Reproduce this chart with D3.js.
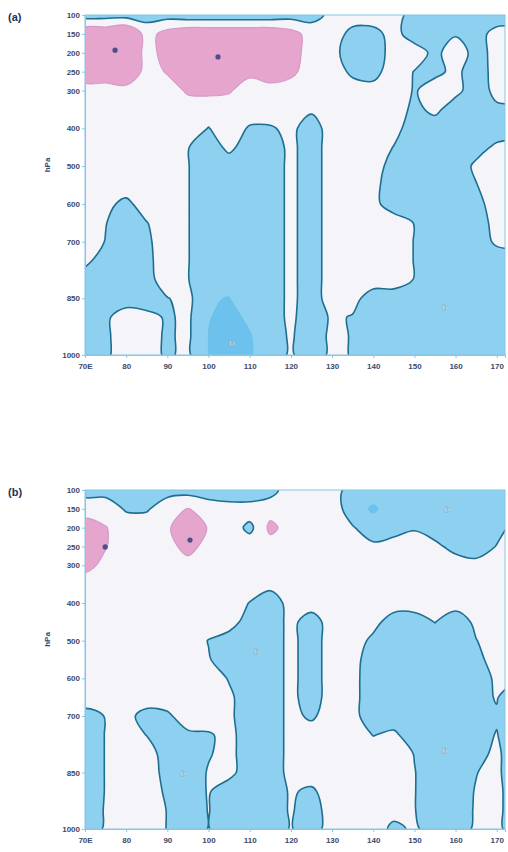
<!DOCTYPE html>
<html>
<head>
<meta charset="utf-8">
<script src="https://cdn.jsdelivr.net/npm/d3@7"></script>
<style>
  body { margin: 0; background: #ffffff; }
  svg { display: block; }
</style>
</head>
<body>
<svg id="chart" width="508" height="852"></svg>
<script>
// Grid longitudes (deg E) and pressure levels (hPa) of the anomaly fields
const lons = [70, 75, 80, 85, 90, 95, 100, 105, 110, 115, 120, 125, 130, 135, 140, 145, 150, 155, 160, 165, 170, 175];
const levels = [100, 150, 200, 250, 300, 350, 400, 450, 500, 550, 600, 650, 700, 750, 800, 850, 900, 950, 1000];

// Axis ticks
const pressureTicks = [100, 150, 200, 250, 300, 400, 500, 600, 700, 850, 1000];
const lonTicks = [70, 80, 90, 100, 110, 120, 130, 140, 150, 160, 170];
const lonTickLabels = ["70E", "80", "90", "100", "110", "120", "130", "140", "150", "160", "170"];

// Panel (a) anomaly field, one row per pressure level (top = 100 hPa)
const fieldA = [
  [-1.5,-1.5,-1.5,-1.5,-1.5,-2,-2,-2,-2,-2,-1.5,-1.5,0.2,1,1,1,-2,-2,-2,-2,-2,-2],
  [4,4,5,1,3,4,4,4,4,4,3,1,1,-1.4,-1.4,0.5,-2,-2,-0.8,-1.5,0.4,1],
  [4,4,5,1,3,5,5,4,3.5,4,3,1,0.4,-2,-2,0.6,1,-1.3,1.2,-1.6,0.4,1],
  [3.5,3.5,4.5,1,2.2,4,4.5,3.5,2.5,3.5,2.5,1,1.2,-1.2,-1.5,1,-0.6,-1,0,-1.6,0.3,1],
  [1,1,1,1,1,2.3,2.4,2.2,1,1,1,1,1,1,0.5,1,-0.7,0.5,0.3,-2,0.3,1],
  [1,1,1,1,1,1,1,1,1,1,1,0,1,1,1,1,-1.2,0.2,-2,-2,-1,-1],
  [1,1,1,1,1,1,-0.6,1,-0.8,-0.8,0.2,-2,1,1,1,0.5,-2,-2,-2,-2,-2,-2],
  [1,1,1,1,1,-0.4,-2,0.2,-2,-2,0.2,-2,1,1,1,-0.6,-2,-2,-2,-1.5,0,1],
  [1,1,1,1,1,-0.4,-2,-2,-2,-2,0.2,-2,1,1,1.2,-2,-2,-2,-2,0,1,1],
  [1,1,1,1,1,-0.4,-2,-2,-2,-2,0.2,-2,1,1,0.3,-2,-2,-2,-2,-0.6,1,1],
  [1,0.2,-1.2,1,1,-0.4,-2,-2,-2,-2,0.2,-2,1,1,0.3,-2,-2,-2,-2,-1.5,1,1],
  [1,-0.4,-2,-0.6,1,-0.4,-2,-2,-2,-2,0.2,-2,1,1,1,1,-0.6,-2,-2,-2,0.5,1],
  [1,-0.6,-2,-1,1,-0.4,-2,-2,-2,-2,0.2,-2,1,1,1,1,-0.6,-2,-2,-2,0,1],
  [0.3,-2,-2,-1.2,1,-0.4,-2,-2,-2,-2,0.2,-2,1,1,1,1,-0.6,-2,-2,-2,-2,-2],
  [-2,-2,-2,-1.5,1,-0.4,-2.6,-2.6,-2,-2,0.2,-2,1,1,1,1,-0.6,-2,-2,-2,-2,-2],
  [-2,-2,-2,-2,-0.6,0.3,-3.3,-3.6,-2,-2,0.2,-2,1,0.5,-2,-2,-2,-2,-2,-2,-2,-2],
  [-2,-1,1,0.3,-0.8,0,-3.4,-4.2,-3.1,-2,0.2,-2.5,0,-0.7,-2,-2,-2,-2,-2,-2,-2,-2],
  [-2,-1,1,0.3,-0.8,0,-3.6,-4.5,-3.7,-2,-0.1,-2.5,0.3,-0.7,-2,-2,-2,-2,-2,-2,-2,-2],
  [-2,-1,1,0.3,-0.8,0,-3.6,-4.6,-3.8,-2,-0.1,-2.5,0.3,-0.7,-2,-2,-2,-2,-2,-2,-2,-2]
];

// Panel (b) anomaly field
const fieldB = [
  [-1.5,-1.5,-1.5,-1.5,-1.5,-1.5,-2,-3,-3,-1.5,1,1,1,-2,-2,-2,-2,-2,-2,-2,-2,-2],
  [1,1,-0.8,-0.8,1,2.1,1,1,1,1,1,1,1,-2,-4,-2,-2,-2,-2,-2,-2,-2],
  [3,2.1,1,1,1.6,4,1.8,1,-1.2,2.6,1,1,1,-0.3,-2,-2,-0.8,-2,-2,-2,-2,1],
  [3,2.1,1,1,1,3,1,1,1,1,1,1,1,1,0,1,1,0.2,-1.5,-3,-0.3,1],
  [2.6,1.5,1,1,1,1,1,1,1,1,1,1,1,1,1,1,1,1,1,1,1,1],
  [1,1,1,1,1,1,1,1,1,0.3,1,1,1,1,1,1,1,1,1,1,1,1],
  [1,1,1,1,1,1,1,1,-0.6,-2,0.5,1,1,1,1,1,1,1,1,1,1,1],
  [1,1,1,1,1,1,1,1,-2,-2,0.3,-2,1,1,0.5,-2,-2,-0.4,-2.5,0.3,1,1],
  [1,1,1,1,1,1,-0.6,-2,-2,-2,0.3,-2,1,1,-1.2,-2,-2,-2,-2,-0.6,1,1],
  [1,1,1,1,1,1,-0.3,-2,-2,-2,0.3,-2,1,0.5,-2,-2,-2,-2,-2,-1.5,1,1],
  [1,1,1,1,1,1,1,-0.7,-2,-2,0.3,-2,1,0.3,-2,-2,-2,-2,-2,-2,0,0.5],
  [1,1,1,1,1,1,1,0,-2,-2,0.3,-2,1,0.3,-2,-2,-2,-2,-2,-2,-0.2,-4],
  [-1.5,-0.4,0.3,-1.5,-1,1,1,0,-2,-2,0.3,-1,1,0.3,-2,-2,-2,-2,-2,-2,-1,-4],
  [-2,-0.4,1,-0.6,-2,-1,-0.8,0.3,-2,-2,0.3,1,1,1,-0.6,0,-2,-2,-2,-2,-0.3,-4],
  [-2,-0.4,1,1,-2,-2,-0.7,0.3,-2,-2,0.3,1,1,1,1,1,-0.6,-2,-2,-2,0.5,-4],
  [-2,-0.4,1,1,-1.5,-2,-0.3,0.3,-2,-2,0.3,1,1,1,1,1,-0.4,-2,-2,-0.6,0.5,-4],
  [-2,-0.4,1,1,-1,-2,-0.3,-2,-2,-2,-0.2,-1,1,1,1,1,-0.4,-2,-2,-0.3,1,-4],
  [-2,-0.3,1,1,-0.6,-2,-0.4,-2,-2,-2,-0.2,-2,1,1,1,0.5,-0.4,-2,-2,-0.2,1,-4],
  [-2,-0.2,1,1,-0.6,-2,-0.4,-2,-2,-2,-0.3,-2,1,1,1,-1.2,0,-2,-2,0,1,-4]
];

// Centres of the positive maxima [lon, hPa] and negative minima labels [lon, hPa]
const highsA = [[77.3, 193], [102.3, 211]];
const lowsA = [[105.7, 968], [157.4, 873]];
const highsB = [[95.5, 233], [74.9, 251]];
const lowsB = [[157.9, 150], [111.7, 527], [93.8, 851], [157.4, 791]];

const svg = d3.select("#chart");

const plotLeft = 85, plotRight = 505;
const x = d3.scaleLinear().domain([70, 172]).range([plotLeft, plotRight]);

const panels = [
  { tag: "(a)", field: fieldA, highs: highsA, lows: lowsA, top: 15, bottom: 355 },
  { tag: "(b)", field: fieldB, highs: highsB, lows: lowsB, top: 490, bottom: 829 }
];

// grid index space -> data space
const gx = d3.scaleLinear().domain([0.5, lons.length - 0.5]).range([lons[0], lons[lons.length - 1]]);
const gy = d3.scaleLinear().domain([0.5, levels.length - 0.5]).range([levels[0], levels[levels.length - 1]]);

const ringLine = d3.line().curve(d3.curveCatmullRomClosed.alpha(0.5));

function contourPath(geom, y) {
  let d = "";
  geom.coordinates.forEach(poly => {
    poly.forEach(ring => {
      const pts = ring.slice(0, -1).map(([u, v]) => [x(gx(u)), y(gy(v))]);
      if (pts.length > 2) d += ringLine(pts);
    });
  });
  return d;
}

panels.forEach((p, idx) => {
  const y = d3.scaleLinear().domain([100, 1000]).range([p.top, p.bottom]);
  const n = lons.length, m = levels.length;
  const values = p.field.flat();
  const negated = values.map(v => -v);

  const clipId = "clip" + idx;
  svg.append("clipPath").attr("id", clipId)
    .append("rect")
    .attr("x", plotLeft).attr("y", p.top)
    .attr("width", plotRight - plotLeft).attr("height", p.bottom - p.top);

  const g = svg.append("g");

  // plot background
  g.append("rect")
    .attr("x", plotLeft).attr("y", p.top)
    .attr("width", plotRight - plotLeft).attr("height", p.bottom - p.top)
    .attr("fill", "#f5f5f9");

  const layer = g.append("g").attr("clip-path", `url(#${clipId})`);

  const gen = d3.contours().size([n, m]).smooth(true);

  const neg = gen.thresholds([0.5])(negated)[0];
  const negStrong = gen.thresholds([3.5])(negated)[0];
  const pos = gen.thresholds([2])(values)[0];

  // negative anomaly (blue)
  layer.append("path")
    .attr("d", contourPath(neg, y))
    .attr("fill", "#8dd0f0")
    .attr("fill-rule", "evenodd");

  // stronger negative core
  layer.append("path")
    .attr("d", contourPath(negStrong, y))
    .attr("fill", "#6cc2ec")
    .attr("fill-rule", "evenodd");

  // positive anomaly (pink)
  layer.append("path")
    .attr("d", contourPath(pos, y))
    .attr("fill", "#e5a5cc")
    .attr("fill-rule", "evenodd")
    .attr("stroke", "#d59acb")
    .attr("stroke-width", 1.2);

  // zero-side contour line of the negative anomaly
  layer.append("path")
    .attr("d", contourPath(neg, y))
    .attr("fill", "none")
    .attr("stroke", "#1f6e90")
    .attr("stroke-width", 1.6)
    .attr("stroke-linejoin", "round");

  // maxima markers
  layer.selectAll("circle.hi").data(p.highs).enter().append("circle")
    .attr("cx", d => x(d[0])).attr("cy", d => y(d[1]))
    .attr("r", 2.6)
    .attr("fill", "#4b4f8a");

  // minima labels
  layer.selectAll("text.lo").data(p.lows).enter().append("text")
    .attr("x", d => x(d[0])).attr("y", d => y(d[1]) + 3)
    .attr("text-anchor", "middle")
    .attr("font-family", "Liberation Sans, Arial, sans-serif")
    .attr("font-size", 8)
    .attr("font-weight", "bold")
    .attr("fill", "#ffffff")
    .attr("stroke", "#6e8ea3")
    .attr("stroke-width", 0.4)
    .text("D");

  // frame
  g.append("rect")
    .attr("x", plotLeft).attr("y", p.top)
    .attr("width", plotRight - plotLeft).attr("height", p.bottom - p.top)
    .attr("fill", "none")
    .attr("stroke", "#86c6e6")
    .attr("stroke-width", 1);

  // axes
  const yAxis = d3.axisLeft(y).tickValues(pressureTicks).tickSize(3).tickFormat(d3.format("d"));
  const ya = svg.append("g").attr("transform", `translate(${plotLeft},0)`).call(yAxis);
  const xAxis = d3.axisBottom(x).tickValues(lonTicks).tickSize(3).tickFormat((d, i) => lonTickLabels[i]);
  const xa = svg.append("g").attr("transform", `translate(0,${p.bottom})`).call(xAxis);

  [ya, xa].forEach(a => {
    a.select(".domain").attr("stroke", "#86c6e6");
    a.selectAll(".tick line").attr("stroke", "#86c6e6");
    a.selectAll(".tick text")
      .attr("font-family", "Liberation Sans, Arial, sans-serif")
      .attr("font-size", 8)
      .attr("font-weight", "bold")
      .attr("fill", "#3c4a6c");
  });
  ya.selectAll(".tick text").attr("x", -5);
  xa.selectAll(".tick text").attr("y", 8);

  // unit label
  svg.append("text")
    .attr("transform", `translate(50,${(p.top + p.bottom) / 2 - 20}) rotate(-90)`)
    .attr("text-anchor", "middle")
    .attr("font-family", "Liberation Sans, Arial, sans-serif")
    .attr("font-size", 8)
    .attr("font-weight", "bold")
    .attr("fill", "#3c4a6c")
    .text("hPa");

  // panel tag
  svg.append("text")
    .attr("x", 8).attr("y", p.top + 6)
    .attr("font-family", "Liberation Sans, Arial, sans-serif")
    .attr("font-size", 11)
    .attr("font-weight", "bold")
    .attr("fill", "#22305a")
    .text(p.tag);
});
</script>
</body>
</html>
